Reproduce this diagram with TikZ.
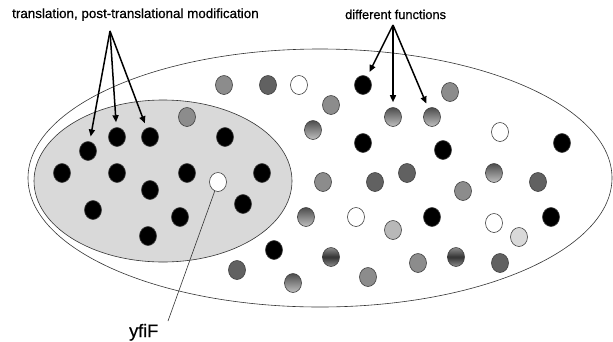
\documentclass[tikz,border=0pt]{standalone}
\usepackage{fontspec}
\setmainfont{Liberation Sans}
\newfontfamily\lblfont[FakeBold = 0.6]{Liberation Sans}
\usetikzlibrary{shapes.geometric,arrows.meta}
\tikzset{
  dot/.style = {ellipse, minimum width = 17pt, minimum height = 19pt, inner sep = 0pt, draw = black!75, line width = 0.6pt},
  dotblk/.style = {dot, fill = black},
  dotwht/.style = {dot, fill = white},
  dotmid/.style = {dot, fill = black!45},
  dotdrk/.style = {dot, fill = black!62},
  dotlgt/.style = {dot, fill = black!28},
  dotpale/.style = {dot, fill = black!15},
  dotfade/.style = {dot, top color = black!70, bottom color = black!25},
  dotband/.style = {dot, top color = black!45, bottom color = black!45, middle color = black!80},
  arr/.style = {line width = 1.5pt, -{Triangle[length = 7pt, width = 6pt]}, shorten >= 5pt},
  lbl/.style = {inner sep = 0pt, anchor = base west}
}
\begin{document}
\begin{tikzpicture}[x = 1pt, y = -1pt]
        \useasboundingbox (0, 0) rectangle (613, 341);
        \draw[black!80, line width = 0.6pt] (320, 178) ellipse (292 and 129);
        \draw[black!80, fill = black!15, line width = 0.6pt] (163, 181) ellipse (129 and 81);
        \foreach \x/\y/\n in {88/151/b1, 117/137/b2, 150/137/b3, 225/137/b4, 62/173/b5, 117/173/b6, 187/173/b7, 262/173/b8,
            150/190/b9, 93/210/b10, 180/217/b11, 243/204/b12, 148/236/b13, 363/85/o6, 363/143/o7, 443/150/o8, 562/143/o9,
            432/217/o12, 551/217/o13, 274/250/o14}
          \node[dotblk] (\n) at (\x, \y) {};
        \foreach \x/\y/\n in {218/182/w1, 299/85/w2, 500/132/w3, 356/217/w4, 494/223/w5}
          \node[dotwht] (\n) at (\x, \y) {};
        \foreach \x/\y/\n in {187/117/m1, 224/85/m2, 331/105/m3, 450/92/m4, 323/182/m5, 463/191/m6, 368/277/m7, 418/263/m8}
          \node[dotmid] (\n) at (\x, \y) {};
        \foreach \x/\y/\n in {268/85/k1, 375/182/k2, 407/173/k3, 538/182/k4, 500/263/k5, 237/270/k6}
          \node[dotdrk] (\n) at (\x, \y) {};
        \foreach \x/\y/\n in {313/130/f1, 393/117/o10, 432/117/o11, 494/173/f2, 306/217/f3, 293/283/f4}
          \node[dotfade] (\n) at (\x, \y) {};
        \node[dotlgt] (l1) at (393, 230) {};
        \node[dotpale] (l2) at (519, 237) {};
        \node[dotband] (g1) at (331, 257) {};
        \node[dotband] (g2) at (456, 257) {};
        \node[lbl, font = \lblfont\fontsize{13.4}{15}\selectfont] (tr) at (12, 18) {translation, post-translational modification};
        \node[lbl, font = \lblfont\fontsize{12.8}{15}\selectfont] (df) at (345, 19) {different functions};
        \node[lbl, font = \lblfont\fontsize{18}{20}\selectfont] (yf) at (129, 337) {yfiF};
        \coordinate (trs) at (110, 31);
        \coordinate (dfs) at (393, 25);
        \coordinate (yfs) at (168, 321);
        \foreach \t in {b1, b2, b3}
          \draw[arr] (trs) -- (\t);
        \foreach \t in {o6, o10, o11}
          \draw[arr] (dfs) -- (\t);
        \draw[black!80, line width = 0.6pt] (yfs) -- (w1);
        \end{tikzpicture}
\end{document}
